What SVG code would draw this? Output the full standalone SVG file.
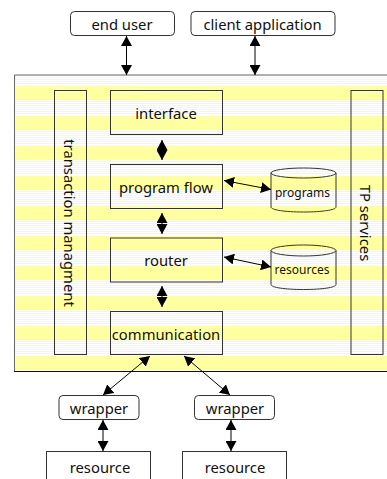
<svg xmlns="http://www.w3.org/2000/svg" width="387" height="479" viewBox="0 0 387 479">
<style>
text{font-family:"Noto Sans","DejaVu Sans",sans-serif;font-size:14.800px;fill:#111;text-anchor:middle}
.s{font-size:12px}
.b{fill:none;stroke:#333;stroke-width:1}
.w{fill:#fff;stroke:#333;stroke-width:1}
.c{stroke:#000;stroke-width:1;fill:none;marker-start:url(#a);marker-end:url(#a)}
</style>
<defs>
<marker id="a" markerUnits="userSpaceOnUse" markerWidth="11" markerHeight="11" refX="10" refY="5.500" orient="auto-start-reverse"><path d="M0,0L10,5.500L0,11z" fill="#000"/></marker>
<pattern id="s" width="4" height="30" patternUnits="userSpaceOnUse" y="76"><rect width="4" height="30" fill="#fff"/><path fill="#ffff99" d="M0,1h4v1H0zM0,3h4v1H0zM0,5h4v1H0zM0,7h4v1H0zM0,10h4v1H0zM0,12h4v1H0zM0,14h4v1H0zM0,16h4v1H0zM0,18h4v1H0zM0,20h4v1H0zM0,22h4v2H0zM0,25h4v1H0zM0,27h4v1H0zM0,29h4v1H0z"/></pattern>
</defs>
<rect id="platform" x="14.500" y="75" width="373" height="296" fill="url(#s)" stroke="none"/>
<path d="M14.500,371V75H387" fill="none" stroke="#666"/><path d="M14,371.500H387" stroke="#111"/>
<g id="end-user"><rect class="w" x="70.500" y="11.500" width="104" height="24" rx="4"/><text x="122" y="30">end user</text></g>
<g id="client-application"><rect class="w" x="191" y="11.500" width="144" height="24" rx="4"/><text x="262.500" y="30">client application</text></g>
<g id="transaction"><rect class="b" x="54.500" y="90.500" width="32" height="264"/><text transform="translate(64,223) rotate(90)">transaction managment</text></g>
<g id="interface"><rect class="b" x="110.500" y="90.500" width="112" height="44"/><text x="166" y="119">interface</text></g>
<g id="program-flow"><rect class="b" x="110.500" y="164.500" width="112" height="44"/><text x="166" y="193">program flow</text></g>
<g id="router"><rect class="b" x="110.500" y="238" width="112" height="44"/><text x="166" y="266">router</text></g>
<g id="communication"><rect class="b" x="110.500" y="311.500" width="112" height="43"/><text x="166" y="340">communication</text></g>
<g id="tp-services"><rect class="b" x="351" y="90.500" width="32" height="264"/><text transform="translate(360,223) rotate(90)">TP services</text></g>
<g id="programs"><path class="b" d="M271,173v34c0,3 14,5 32.500,5s32.500,-2 32.500,-5v-34"/><ellipse class="b" cx="303.500" cy="173" rx="32.500" ry="5"/><text class="s" x="302.500" y="197">programs</text></g>
<g id="resources"><path class="b" d="M271,250.500v34c0,3 14,5 32.500,5s32.500,-2 32.500,-5v-34"/><ellipse class="b" cx="303.500" cy="250.500" rx="32.500" ry="5.500"/><text class="s" x="302" y="274">resources</text></g>
<g id="wrapper-1"><rect class="w" x="59" y="395.500" width="80" height="24" rx="4"/><text x="99" y="414">wrapper</text></g>
<g id="wrapper-2"><rect class="w" x="194.500" y="395.500" width="80" height="24" rx="4"/><text x="235" y="414">wrapper</text></g>
<g id="resource-1"><rect class="w" x="46.500" y="451.500" width="104" height="40"/><text x="100" y="473">resource</text></g>
<g id="resource-2"><rect class="w" x="182.500" y="451.500" width="104" height="40"/><text x="235" y="473">resource</text></g>
<g id="connectors">
<path class="c" d="M126.500,36V75"/>
<path class="c" d="M255,36V75"/>
<path class="c" d="M162,140V160"/>
<path class="c" d="M162,213V234"/>
<path class="c" d="M162,286V307"/>
<path class="c" d="M224,180.500L271,189.500"/>
<path class="c" d="M224,257L271,267"/>
<path class="c" d="M150,356L103,395"/>
<path class="c" d="M184,356L230,395"/>
<path class="c" d="M103,420V451"/>
<path class="c" d="M231,420V451"/>
</g>
</svg>
